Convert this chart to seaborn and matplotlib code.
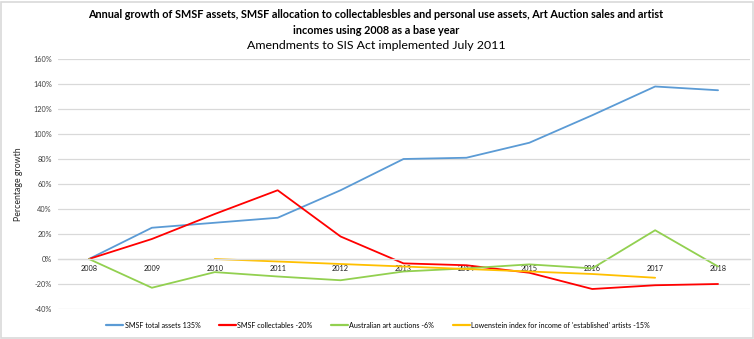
import numpy as np
import pandas as pd
import matplotlib
matplotlib.use("Agg")
import matplotlib.pyplot as plt
import seaborn as sns
from matplotlib.patches import Rectangle

years = [2008, 2009, 2010, 2011, 2012, 2013, 2014, 2015, 2016, 2017, 2018]
smsf_total = [0, 25, 29, 33, 55, 80, 81, 93, 115, 138, 135]
smsf_collect = [0, 16, 36, 55, 18, -3.5, -5, -11, -24, -21, -20]
art_auctions = [0, -23, -10.5, -14, -17, -10, -7.5, -4.3, -7.5, 23, -6]
lowenstein = [np.nan, np.nan, 0, -2, -4, -6, -8, -10, -12, -15, np.nan]

series_names = ["SMSF total assets 135%", "SMSF collectables -20%",
                "Australian art auctions -6%",
                "Lowenstein index for income of 'established' artists -15%"]
colors = ["#5B9BD5", "#FF0000", "#92D050", "#FFC000"]

rows = []
for name, vals in zip(series_names, [smsf_total, smsf_collect, art_auctions, lowenstein]):
    for i, (y, v) in enumerate(zip(years, vals)):
        if not np.isnan(v):
            rows.append({"idx": i, "year": y, "value": v, "series": name})
df = pd.DataFrame(rows)

sns.set_style("white")
plt.rcParams['font.family'] = ['Lato', 'DejaVu Sans']
plt.rcParams['text.color'] = '#000000'

fig = plt.figure(figsize=(7.54, 3.39), dpi=100)
ax = fig.add_axes([57.5/754, 1 - 309/339, (749.5 - 57.5)/754, 250/339])

sns.lineplot(data=df, x="idx", y="value", hue="series", hue_order=series_names,
             palette=colors, linewidth=1.3, ax=ax, sort=False, legend=True)

ax.set_xlim(-0.5, 10.5)
ax.set_ylim(-40, 160)
ax.set_yticks(range(-40, 161, 20))
ax.set_yticklabels([f"{v}%" for v in range(-40, 161, 20)], fontsize=5.3, color="#404040")
ax.grid(axis="y", color="#d9d9d9", linewidth=0.9)
ax.set_axisbelow(True)
for s in ["top", "right", "left"]:
    ax.spines[s].set_visible(False)
ax.spines["bottom"].set_position(("data", 0))
ax.spines["bottom"].set_color("#d9d9d9")
ax.spines["bottom"].set_linewidth(0.9)
ax.set_xticks(range(len(years)))
ax.set_xticklabels([str(y) for y in years], fontsize=5.3, color="#202020")
ax.tick_params(axis="both", length=0, pad=4)
ax.set_xlabel("")
ax.set_ylabel("Percentage growth", fontsize=6.3, labelpad=7)

leg = ax.legend(loc="center", ncol=4, frameon=False, fontsize=5.1,
                handlelength=2.4, columnspacing=2.6, handletextpad=0.2)
leg.set_bbox_to_anchor((378/754, 1 - 325/339), transform=fig.transFigure)
for line in leg.get_lines():
    line.set_linewidth(1.6)

t1 = fig.text(376/754, 1 - 14/339,
              "Annual growth of SMSF assets, SMSF allocation to collectablesbles and personal use assets, Art Auction sales and artist",
              ha="center", va="center", fontsize=8.5, fontweight="bold")
t2 = fig.text(376/754, 1 - 30.5/339, "incomes using 2008 as a base year",
              ha="center", va="center", fontsize=8.5, fontweight="bold")
t3 = fig.text(376/754, 1 - 45.5/339, "Amendments to SIS Act implemented July 2011",
              ha="center", va="center", fontsize=8.2)

# fit title widths to reference
r = fig.canvas.get_renderer()
w = t1.get_window_extent(r).width
fs = 8.5 * 576 / w
t1.set_fontsize(fs)
t2.set_fontsize(fs)
w3 = t3.get_window_extent(r).width
t3.set_fontsize(8.2 * 259 / w3)

fig.patches.append(Rectangle((0.5/754, 1.5/339), 752/754, 336/339, transform=fig.transFigure,
                             fill=False, edgecolor="#d9d9d9", linewidth=1.2))

fig.savefig("out.png", dpi=100)
